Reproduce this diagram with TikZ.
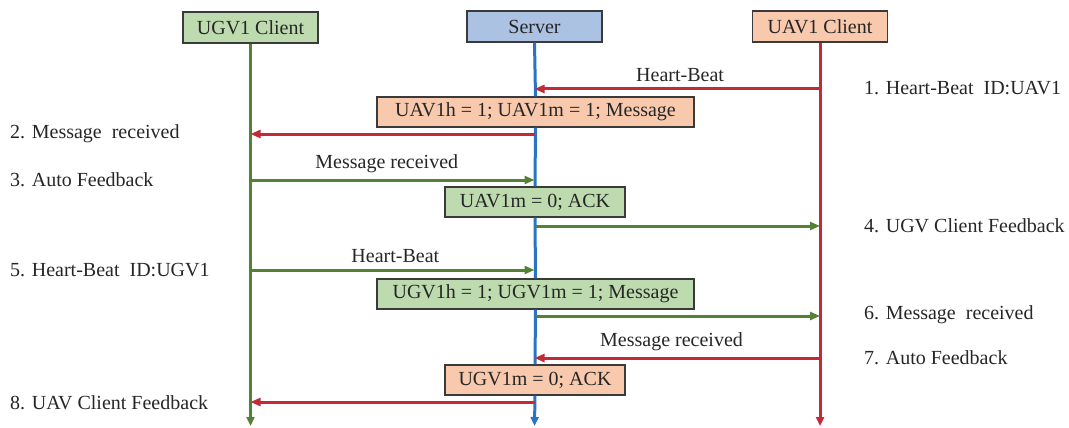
\documentclass[tikz,border=0pt]{standalone}
\usepackage{fontspec}
\setmainfont{Liberation Serif}
\usetikzlibrary{arrows.meta}
\definecolor{ugvline}{HTML}{548235}
\definecolor{uavline}{HTML}{C22A35}
\definecolor{srvline}{HTML}{2A74C4}
\definecolor{ugvfill}{HTML}{BDDBAE}
\definecolor{uavfill}{HTML}{F8C9AD}
\definecolor{srvfill}{HTML}{ABC2E2}
\definecolor{boxedge}{HTML}{3A3A3A}
\tikzset{
  x=1pt, y=-1pt,
  every node/.style={font=\fontsize{20}{23}\selectfont, text=black!85},
  header/.style={draw=boxedge, line width=1.2pt, minimum width=135pt, minimum height=31pt, inner sep=0pt},
  msgbox/.style={draw=boxedge, line width=1.2pt, minimum height=30pt, inner sep=0pt},
  life/.style={line width=3pt, -{Triangle[length=9pt,width=8pt]}},
  msg/.style={line width=3pt, -{Triangle[length=10pt,width=8pt]}},
  steplabel/.style={anchor=west, inner sep=0pt},
  msglabel/.style={inner sep=0pt}
}
\begin{document}
\begin{tikzpicture}
\useasboundingbox (0,0) rectangle (1069,428);

% participants
\node[header, fill=ugvfill] (ugv) at (250.5,27.5) {UGV1 Client};
\node[header, fill=srvfill] (srv) at (534.5,26.5) {Server};
\node[header, fill=uavfill] (uav) at (820,26.5) {UAV1 Client};

% lifeline ends
\coordinate (ugvend) at (ugv.south |- 0,426);
\coordinate (srvend) at (srv.south |- 0,426);
\coordinate (uavend) at (uav.south |- 0,426);

% message rows on each lifeline
\foreach \n/\y in {a/89,b/134,c/180,d/226,e/270,f/316,g/358,h/402}{
  \coordinate (ugv\n) at (ugv.south |- 0,\y);
  \coordinate (srv\n) at (srv.south |- 0,\y);
  \coordinate (uav\n) at (uav.south |- 0,\y);
}

% state boxes on the server
\node[msgbox, fill=uavfill, minimum width=317pt] (box1) at (535.5,112) {UAV1h = 1; UAV1m = 1; Message};
\node[msgbox, fill=ugvfill, minimum width=180pt] (box2) at (535,202) {UAV1m = 0; ACK};
\node[msgbox, fill=ugvfill, minimum width=317pt] (box3) at (535.5,294) {UGV1h = 1; UGV1m = 1; Message};
\node[msgbox, fill=uavfill, minimum width=180pt] (box4) at (535,380) {UGV1m = 0; ACK};

% lifelines
\draw[life, ugvline] (ugv.south) -- (ugvend);
\draw[life, uavline] (uav.south) -- (uavend);
\draw[srvline, line width=3pt] (srv.south) -- (box1.north);
\draw[srvline, line width=3pt] (box1.south) -- (box2.north);
\draw[srvline, line width=3pt] (box2.south) -- (box3.north);
\draw[srvline, line width=3pt] (box3.south) -- (box4.north);
\draw[life, srvline] (box4.south) -- (srvend);

% messages
\draw[msg, uavline] (uava) -- node[msglabel, above=6pt, pos=0.49] (l1) {Heart-Beat} (srva);
\draw[msg, uavline] (srvb) -- (ugvb);
\draw[msg, ugvline] (ugvc) -- node[msglabel, above=6pt, pos=0.48] (l3) {Message received} (srvc);
\draw[msg, ugvline] (srvd) -- (uavd);
\draw[msg, ugvline] (ugve) -- node[msglabel, above=6pt, pos=0.51] (l5) {Heart-Beat} (srve);
\draw[msg, ugvline] (srvf) -- (uavf);
\draw[msg, uavline] (uavg) -- node[msglabel, above=6pt, pos=0.52] (l7) {Message received} (srvg);
\draw[msg, uavline] (srvh) -- (ugvh);

% step descriptions
\node[steplabel] (s1) at (864,88) {1. Heart-Beat\ \ ID:UAV1};
\node[steplabel] (s2) at (10,134) {2. Message\ \ received};
\node[steplabel] (s3) at (10,180) {3. Auto Feedback};
\node[steplabel] (s4) at (864,226) {4. UGV Client Feedback};
\node[steplabel] (s5) at (10,270) {5. Heart-Beat\ \ ID:UGV1};
\node[steplabel] (s6) at (864,315) {6. Message\ \ received};
\node[steplabel] (s7) at (864,358) {7. Auto Feedback};
\node[steplabel] (s8) at (10,403) {8. UAV Client Feedback};
\end{tikzpicture}
\end{document}
